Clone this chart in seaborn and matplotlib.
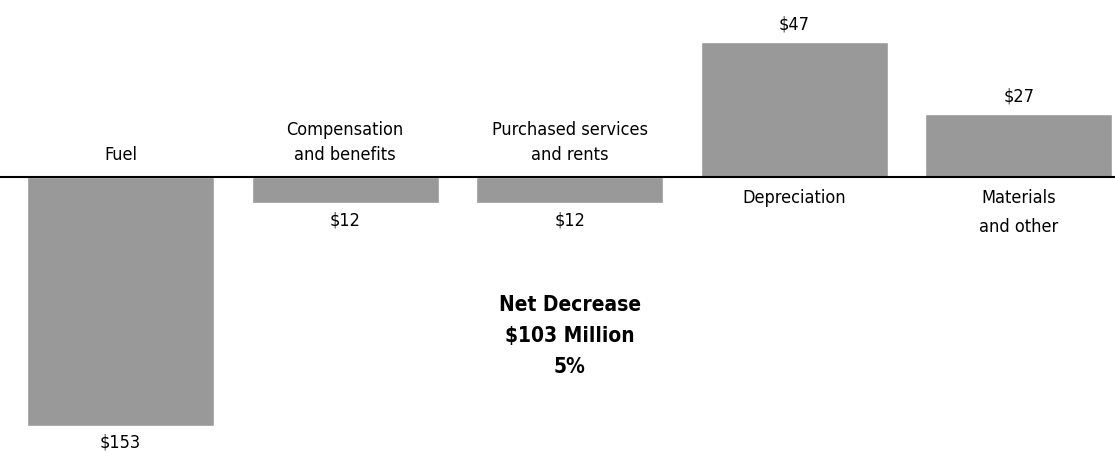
import matplotlib
matplotlib.use("Agg")
import matplotlib.pyplot as plt
import seaborn as sns
import pandas as pd

categories = ["Fuel", "Compensation\nand benefits", "Purchased services\nand rents",
              "Depreciation", "Materials\nand other"]
# drawn bar lengths (chart is not drawn to scale)
bar_heights = [-249, -26, -26, 135, 63]
value_labels = ["$153", "$12", "$12", "$47", "$27"]
note_lines = ["Net Decrease", "$103 Million", "5%"]

sns.set_theme(style="white")
plt.rcParams["font.family"] = ["DejaVu Sans"]

fig = plt.figure(figsize=(11.15, 4.59), dpi=100)
ax = fig.add_axes([0, 0, 1, 1])

df = pd.DataFrame({"cat": categories, "h": bar_heights})
sns.barplot(data=df, x="cat", y="h", color="#999999", saturation=1, width=0.833, ax=ax)

ax.set_xlim(-0.537, 4.428)
ax.set_ylim(-282, 177)
ax.axhline(0, color="black", lw=1.5, zorder=5)
ax.axis("off")

fs = 13
font = dict(family="DejaVu Sans", stretch="condensed", fontsize=fs, color="black")
for i, (cat, h, lab) in enumerate(zip(categories, bar_heights, value_labels)):
    if h < 0:
        ax.text(i, 13, cat, ha="center", va="bottom", linespacing=1.5, **font)
        ax.text(i, h - 8, lab, ha="center", va="top", **font)
    else:
        ax.text(i, -12, cat, ha="center", va="top", linespacing=1.8, **font)
        ax.text(i, h + 9, lab, ha="center", va="bottom", **font)

ax.text(2, -118, "\n".join(note_lines), ha="center", va="top", fontsize=15,
        fontweight="bold", linespacing=1.68, family="DejaVu Sans",
        stretch="condensed", color="black")

fig.savefig("out.png", dpi=100)
